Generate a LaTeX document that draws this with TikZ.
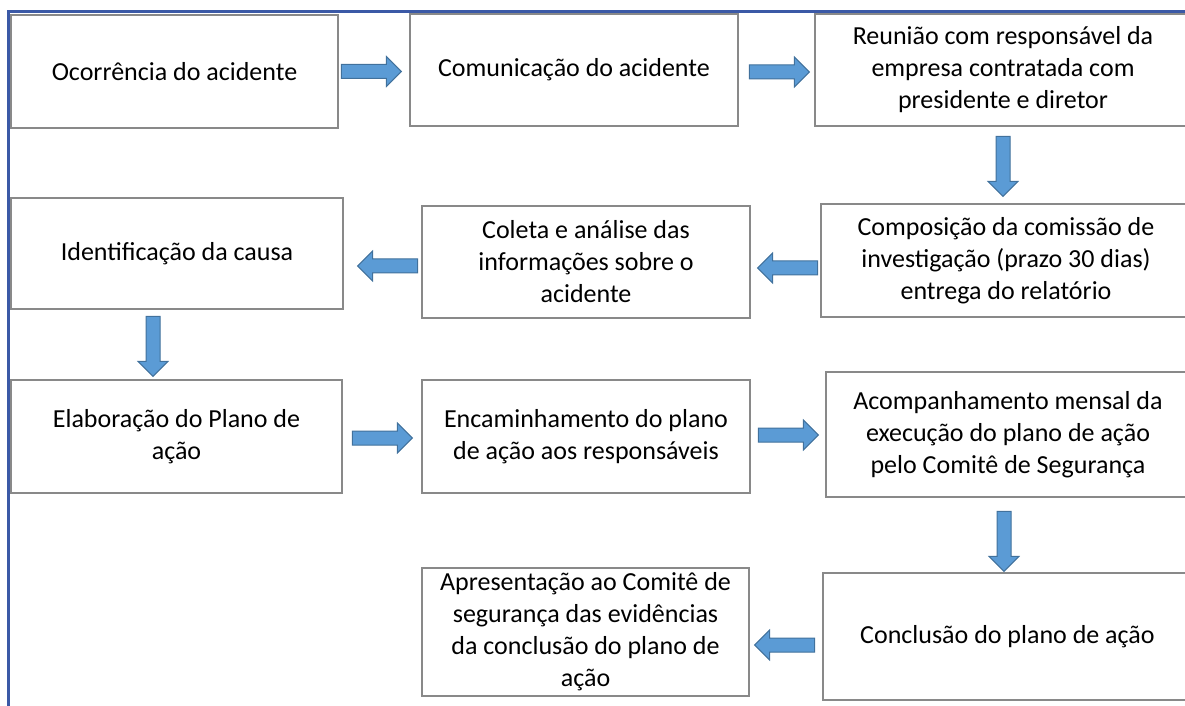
\documentclass[tikz,border=0pt]{standalone}
\usepackage{fontspec}
\setmainfont{Carlito}
\usetikzlibrary{shapes.arrows}

\definecolor{frameblue}{RGB}{59,89,166}
\definecolor{boxgray}{RGB}{137,137,137}
\definecolor{arrowfill}{RGB}{91,155,213}
\definecolor{arrowline}{RGB}{65,113,156}

\tikzset{
  flowbox/.style={draw=boxgray, line width=0.9pt, align=center,
    font=\fontsize{13}{16}\selectfont, inner sep=2pt},
  blockarr/.style={single arrow, draw=arrowline, fill=arrowfill, line width=0.5pt,
    inner xsep=0pt, inner ysep=3.25pt, minimum height=30pt,
    single arrow head extend=4pt},
  toright/.style={blockarr, anchor=tail},
  toleft/.style={blockarr, shape border rotate=180, anchor=tail},
  todown/.style={blockarr, inner xsep=3.25pt, inner ysep=0pt,
    shape border rotate=270, anchor=tail}
}

\begin{document}
\begin{tikzpicture}[x=0.5pt,y=-0.5pt]
  \useasboundingbox (0,0) rectangle (1185,706);
  \clip (0,0) rectangle (1185,706);
  \draw[frameblue, line width=1.5pt] (8.5,720) -- (8.5,11.5) -- (1200,11.5);

  % first row
  \node[flowbox, minimum width=163.5pt, minimum height=56.5pt] (ocorr) at (174.5,71.5) {Ocorrência do acidente};
  \node[flowbox, minimum width=164pt, minimum height=56pt] (comun) at (574,70) {Comunicação do acidente};
  \node[flowbox, minimum width=188pt, minimum height=56pt] (reuniao) at (1003,70)
    {Reunião com responsável da\\empresa contratada com\\presidente e diretor};

  % second row
  \node[flowbox, minimum width=185pt, minimum height=56.5pt] (comissao) at (1006,260.5)
    {Composição da comissão de\\investigação (prazo 30 dias)\\entrega do relatório};
  \node[flowbox, minimum width=164pt, minimum height=56pt] (coleta) at (586,262)
    {Coleta e análise das\\informações sobre o\\acidente};
  \node[flowbox, minimum width=166pt, minimum height=55.5pt] (causa) at (177,253.5) {Identificação da causa};

  % third row
  \node[flowbox, minimum width=165.5pt, minimum height=56.5pt] (plano) at (176.5,436.5)
    {Elaboração do Plano de\\ação};
  \node[flowbox, minimum width=164pt, minimum height=56.5pt] (encam) at (586,436.5)
    {Encaminhamento do plano\\de ação aos responsáveis};
  \node[flowbox, minimum width=182pt, minimum height=62.5pt] (acomp) at (1008,434.5)
    {Acompanhamento mensal da\\execução do plano de ação\\pelo Comitê de Segurança};

  % last row
  \node[flowbox, minimum width=184.5pt, minimum height=63.5pt] (conclusao) at (1007.5,636.5)
    {Conclusão do plano de ação};
  \node[flowbox, minimum width=163.5pt, minimum height=64pt] (apres) at (585.5,632)
    {Apresentação ao Comitê de\\segurança das evidências\\da conclusão do plano de\\ação};

  % arrows
  \node[toright] (a1) at ([xshift=1pt]ocorr.east) {};
  \node[toright] (a2) at ([xshift=5pt,yshift=-1pt]comun.east) {};
  \node[todown] (a3) at ([yshift=-4.5pt]reuniao.south) {};
  \node[toleft] (a4) at ([xshift=-1pt,yshift=-3.75pt]comissao.west) {};
  \node[toleft] (a5) at ([xshift=-1.5pt,yshift=-2pt]coleta.west) {};
  \node[todown] (a6) at ([xshift=-12pt,yshift=-3pt]causa.south) {};
  \node[toright] (a7) at ([xshift=4.5pt,yshift=-0.75pt]plano.east) {};
  \node[toright] (a8) at ([xshift=3.5pt,yshift=0.75pt]encam.east) {};
  \node[todown] (a9) at ([xshift=-2pt,yshift=-6.5pt]acomp.south) {};
  \node[toleft] (a10) at ([xshift=-3.5pt,yshift=-4.25pt]conclusao.west) {};
\end{tikzpicture}
\end{document}
